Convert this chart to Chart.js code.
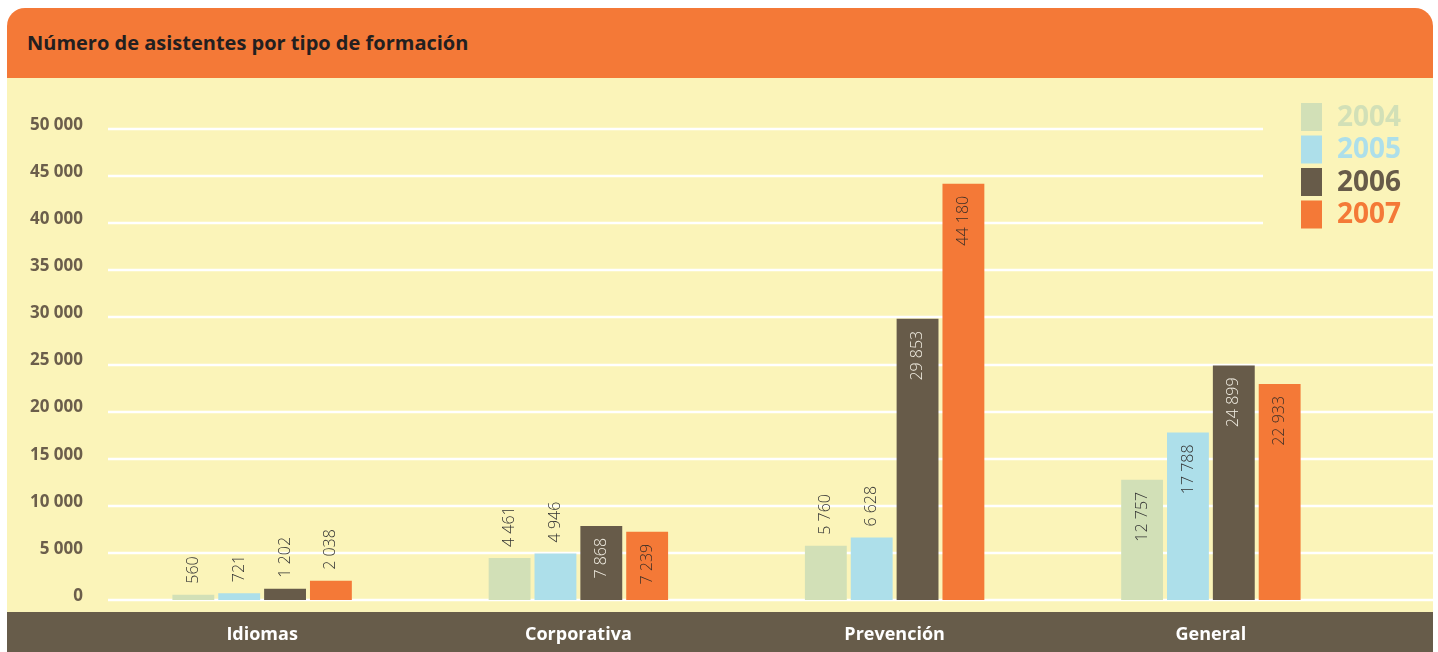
<!DOCTYPE html>
<html>
<head>
<meta charset="utf-8">
<script src="https://cdn.jsdelivr.net/npm/chart.js@4/dist/chart.umd.min.js"></script>
<style>
    body { margin: 0; background: #ffffff; }
    #panel { position: absolute; left: 7px; top: 8px; width: 1426px; height: 644px; }
    #head {
        height: 70px; background: #f47937; border-radius: 18px 18px 0 0;
        font-family: "Open Sans", sans-serif; font-weight: bold; font-size: 20px;
        color: #231f20; line-height: 70px; padding-left: 20px; box-sizing: border-box;
    }
    #wrap { position: relative; width: 1426px; height: 574px; background: #fbf4b9; }
</style>
</head>
<body>
<div id="panel">
    <div id="head">Número de asistentes por tipo de formación</div>
    <div id="wrap"><canvas id="chart"></canvas></div>
</div>
<script>
const categories = ["Idiomas", "Corporativa", "Prevención", "General"];
const years = ["2004", "2005", "2006", "2007"];
const values2004 = [560, 4461, 5760, 12757];
const values2005 = [721, 4946, 6628, 17788];
const values2006 = [1202, 7868, 29853, 24899];
const values2007 = [2038, 7239, 44180, 22933];

const barColors = ["#d2e0b7", "#addfea", "#675b49", "#f47937"];
const insideText = ["#333333", "#333333", "#f3efe4", "#3d2f27"];
const bandColor = "#675c4a";
const gridColor = "#ffffff";

const fmt = v => String(v).replace(/\B(?=(\d{3})+(?!\d))/g, " ");

// brown band behind the category names
const bandPlugin = {
    id: "band",
    beforeDraw(chart) {
        const ctx = chart.ctx;
        const top = chart.chartArea.bottom + 12;
        ctx.save();
        ctx.fillStyle = bandColor;
        ctx.fillRect(0, top, chart.width, chart.height - top);
        ctx.restore();
    }
};

// white gridlines, cut short where the legend sits
const gridPlugin = {
    id: "gridlines",
    beforeDatasetsDraw(chart) {
        const ctx = chart.ctx;
        const y = chart.scales.y;
        ctx.save();
        ctx.strokeStyle = gridColor;
        ctx.lineWidth = 2.5;
        y.ticks.forEach(t => {
            const py = Math.round(y.getPixelForValue(t.value));
            const end = py < 235 - 78 ? 1256 : chart.width;
            ctx.beginPath();
            ctx.moveTo(101, py);
            ctx.lineTo(end, py);
            ctx.stroke();
        });
        ctx.restore();
    }
};

// rotated value labels: inside tall bars, above short ones
const valuePlugin = {
    id: "values",
    afterDatasetsDraw(chart) {
        const ctx = chart.ctx;
        ctx.save();
        ctx.font = "300 16px 'Open Sans'";
        ctx.textBaseline = "middle";
        chart.data.datasets.forEach((ds, i) => {
            chart.getDatasetMeta(i).data.forEach((bar, j) => {
                const v = ds.data[j];
                const txt = fmt(v);
                ctx.save();
                ctx.translate(bar.x, bar.y);
                ctx.rotate(-Math.PI / 2);
                if (v > 7000) {
                    ctx.textAlign = "right";
                    ctx.fillStyle = insideText[i];
                    ctx.fillText(txt, -12, 0);
                } else {
                    ctx.textAlign = "left";
                    ctx.fillStyle = "#333333";
                    ctx.fillText(txt, 11, 0);
                }
                ctx.restore();
            });
        });
        ctx.restore();
    }
};

// legend block in the top right corner
const legendPlugin = {
    id: "yearLegend",
    afterDraw(chart) {
        const ctx = chart.ctx;
        ctx.save();
        ctx.font = "bold 28px 'Open Sans'";
        ctx.textBaseline = "middle";
        chart.data.datasets.forEach((ds, i) => {
            const top = 25 + i * 32.5;
            ctx.fillStyle = ds.backgroundColor;
            ctx.fillRect(1294, top, 21, 28);
            ctx.fillText(ds.label, 1330, top + 15);
        });
        ctx.restore();
    }
};

const allValues = [values2004, values2005, values2006, values2007];

new Chart(document.getElementById("chart"), {
    type: "bar",
    data: {
        labels: categories,
        datasets: years.map((y, i) => ({
            label: y,
            data: allValues[i],
            backgroundColor: barColors[i],
            categoryPercentage: 0.58,
            barPercentage: 0.913
        }))
    },
    options: {
        responsive: true,
        maintainAspectRatio: false,
        animation: false,
        layout: { padding: { top: 51, right: 64, left: 0, bottom: 0 } },
        plugins: {
            legend: { display: false },
            tooltip: { enabled: false }
        },
        scales: {
            x: {
                grid: { display: false, drawTicks: false },
                border: { display: false },
                ticks: {
                    color: "#ffffff",
                    font: { family: "Open Sans", weight: "bold", size: 18 },
                    padding: 24
                },
                afterFit(s) { s.height = 52; }
            },
            y: {
                min: 0,
                max: 50000,
                grid: { display: false, drawTicks: false },
                border: { display: false },
                ticks: {
                    stepSize: 5000,
                    color: "#6b5e4b",
                    font: { family: "Open Sans", weight: "bold", size: 17 },
                    padding: 21,
                    labelOffset: -4,
                    callback: v => fmt(v)
                },
                afterFit(s) { s.width = 97; }
            }
        }
    },
    plugins: [bandPlugin, gridPlugin, valuePlugin, legendPlugin]
});
</script>
</body>
</html>
